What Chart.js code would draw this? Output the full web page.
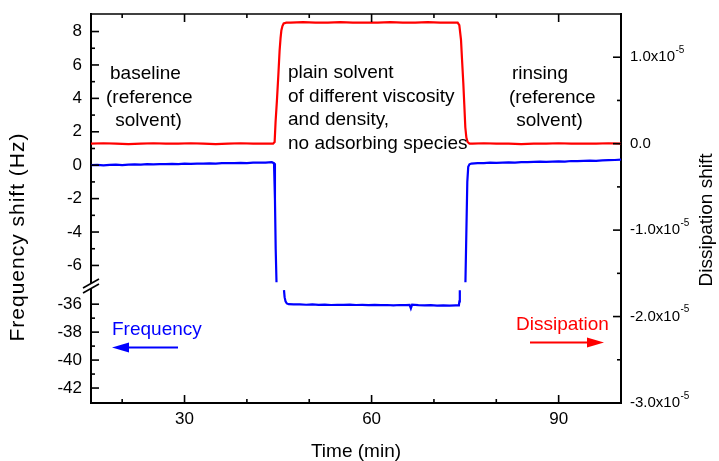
<!DOCTYPE html>
<html><head><meta charset="utf-8">
<script src="https://cdn.jsdelivr.net/npm/chart.js@4/dist/chart.umd.min.js"></script>
<style>html,body{margin:0;padding:0;background:#fff;}canvas{display:block;}</style>
</head><body>
<canvas id="c" width="719" height="461"></canvas>
<script>
// ---- data ----
const freqUpperTime = [15,16,17,18,19,20,21,22,23,24,25,26,27,28,29,30,31,32,33,34,35,36,37,38,39,40,41,42,43,44,44.35,44.5,44.62,44.75,60,75.05,75.2,75.35,75.5,75.7,76,77,78,79,80,81,82,83,84,85,86,87,88,89,90,91,92,93,94,95,96,97,98,99,100];
const freqUpperValue = [0.00,0.02,-0.01,0.02,0.03,0.01,0.04,0.05,0.03,0.06,0.05,0.07,0.06,0.08,0.07,0.09,0.08,0.10,0.09,0.11,0.10,0.12,0.13,0.12,0.14,0.13,0.15,0.16,0.15,0.18,0.12,-2.0,-5.0,-7.0,null,-7.0,-4.0,-1.0,-0.1,0.05,0.10,0.13,0.12,0.15,0.14,0.16,0.17,0.16,0.19,0.18,0.20,0.21,0.20,0.22,0.23,0.22,0.25,0.24,0.26,0.27,0.26,0.29,0.30,0.31,0.33];
const freqLowerTime = [45.95,46.05,46.2,46.4,46.7,47.5,48.5,49.5,50.5,51.5,52.5,53.5,54.5,55.5,56.5,57.5,58.5,59.5,60.5,61.5,62.5,63.5,64.5,65.5,66.1,66.3,66.5,67.5,68.5,69.5,70.5,71.5,72.5,73.5,74.0,74.08,74.15];
const freqLowerValue = [-35.0,-35.5,-35.8,-35.95,-36.0,-36.02,-36.01,-36.04,-36.02,-36.05,-36.03,-36.06,-36.04,-36.05,-36.03,-36.06,-36.05,-36.07,-36.05,-36.07,-36.06,-36.08,-36.06,-36.07,-36.05,-36.3,-36.04,-36.07,-36.09,-36.07,-36.10,-36.08,-36.10,-36.09,-36.09,-35.8,-35.0];
const dissTime = [15,17,19,21,23,25,27,29,31,33,35,37,39,41,43,44.2,44.45,44.6,44.82,45.05,45.25,45.4,45.53,45.7,45.9,46.33,47,49,51,53,55,57,59,61,63,65,67,69,71,73,73.8,74.07,74.34,74.5,74.71,74.87,75.03,75.2,75.4,75.7,76.2,78,80,82,84,86,88,90,92,94,96,98,100];
const dissValueE5 = [0.00,0.005,0.00,-0.005,0.00,0.005,0.00,0.00,0.005,0.00,-0.005,0.00,0.005,0.00,0.00,0.00,0.02,0.25,0.50,0.80,1.08,1.22,1.31,1.36,1.39,1.40,1.40,1.405,1.40,1.40,1.405,1.40,1.40,1.40,1.405,1.40,1.40,1.405,1.40,1.40,1.40,1.37,1.20,0.98,0.70,0.45,0.19,0.07,0.02,0.0,0.0,0.005,0.0,0.0,-0.005,0.0,0.0,0.005,0.0,0.0,0.0,0.005,0.0];

const timeTicks = [30,60,90];
const timeMinorTicks = [20,40,50,70,80];
const freqUpperTicks = [-6,-4,-2,0,2,4,6,8];
const freqUpperMinorTicks = [-5,-3,-1,1,3,5,7];
const freqLowerTicks = [-42,-40,-38,-36];
const freqLowerMinorTicks = [-41,-39,-37];
const dissTicks = [-3,-2,-1,0,1];
const dissMinorTicks = [-2.5,-1.5,-0.5,0.5];

const annotations = [
  {lines:['baseline','(reference',' solvent)'], x:[110,106,110], y:74},
  {lines:['plain solvent','of different viscosity','and density,','no adsorbing species'], x:[288,288,288,288], y:73},
  {lines:['rinsing','(reference',' solvent)'], x:[512,509,511], y:74}
];

// ---- build ----
const pts = (t, v, k) => t.map((x, i) => ({x, y: v[i] === null ? null : v[i] * (k || 1)}));
const FONT = "'Liberation Sans', Arial, sans-serif";

const setTicks = arr => scale => { scale.ticks = arr.map(v => ({value: v})); };
const noPad = w => scale => { scale.paddingTop = 0; scale.paddingBottom = 0; scale.paddingLeft = 0; scale.paddingRight = 0; if (w.width) scale.width = w.width; if (w.height) scale.height = w.height; };

const decor = {
  id: 'decor',
  afterDraw(chart) {
    const {ctx, chartArea: ca, scales} = chart;
    ctx.save();
    ctx.strokeStyle = '#000';
    ctx.lineWidth = 1.6;
    const line = (x1, y1, x2, y2) => { ctx.beginPath(); ctx.moveTo(x1, y1); ctx.lineTo(x2, y2); ctx.stroke(); };
    // top frame
    line(ca.left - 1, ca.top, ca.right + 1, ca.top);
    // x ticks (inward, bottom and top)
    timeTicks.forEach(v => { const p = scales.x.getPixelForValue(v); line(p, ca.bottom, p, ca.bottom - 8); line(p, ca.top, p, ca.top + 8); });
    timeMinorTicks.forEach(v => { const p = scales.x.getPixelForValue(v); line(p, ca.bottom, p, ca.bottom - 4); line(p, ca.top, p, ca.top + 4); });
    // left ticks
    freqUpperTicks.forEach(v => { const p = scales.yUp.getPixelForValue(v); line(ca.left, p, ca.left + 8, p); });
    freqUpperMinorTicks.forEach(v => { const p = scales.yUp.getPixelForValue(v); line(ca.left, p, ca.left + 4, p); });
    freqLowerTicks.forEach(v => { const p = scales.yLow.getPixelForValue(v); line(ca.left, p, ca.left + 8, p); });
    freqLowerMinorTicks.forEach(v => { const p = scales.yLow.getPixelForValue(v); line(ca.left, p, ca.left + 4, p); });
    // right ticks
    dissTicks.forEach(v => { const p = scales.yD.getPixelForValue(v); line(ca.right, p, ca.right - 8, p); });
    dissMinorTicks.forEach(v => { const p = scales.yD.getPixelForValue(v); line(ca.right, p, ca.right - 4, p); });
    // right tick labels with superscript exponent
    ctx.fillStyle = '#000';
    ctx.textAlign = 'left';
    ctx.textBaseline = 'middle';
    dissTicks.forEach(v => {
      const p = scales.yD.getPixelForValue(v);
      const x0 = ca.right + 9;
      ctx.font = '15px ' + FONT;
      if (v === 0) { ctx.fillText('0.0', x0, p); return; }
      const base = v.toFixed(1) + 'x10';
      ctx.fillText(base, x0, p);
      const w = ctx.measureText(base).width;
      ctx.font = '10px ' + FONT;
      ctx.fillText('-5', x0 + w + 0.5, p - 7);
    });
    // axis break
    const b = scales.yUp.bottom;
    ctx.fillStyle = '#fff';
    ctx.fillRect(ca.left - 3, b - 2, 6, 4);
    line(ca.left - 8, b + 2, ca.left + 8, b - 7);
    line(ca.left - 8, b + 7, ca.left + 8, b - 2);
    // annotations
    ctx.fillStyle = '#000';
    ctx.font = '19px ' + FONT;
    ctx.textBaseline = 'middle';
    ctx.textAlign = 'left';
    annotations.forEach(a => a.lines.forEach((s, i) => ctx.fillText(s, a.x[i], a.y + i * 23.5)));
    // labels with arrows
    ctx.fillStyle = '#0000ff'; ctx.strokeStyle = '#0000ff'; ctx.lineWidth = 2;
    ctx.fillText('Frequency', 112, 330);
    line(178, 347.5, 125, 347.5);
    ctx.beginPath(); ctx.moveTo(112, 347.5); ctx.lineTo(129, 342.5); ctx.lineTo(129, 352.5); ctx.closePath(); ctx.fill();
    ctx.fillStyle = '#ff0000'; ctx.strokeStyle = '#ff0000';
    ctx.fillText('Dissipation', 516, 325);
    line(530, 342.5, 592, 342.5);
    ctx.beginPath(); ctx.moveTo(604, 342.5); ctx.lineTo(587, 337.5); ctx.lineTo(587, 347.5); ctx.closePath(); ctx.fill();
    // axis titles
    ctx.fillStyle = '#000';
    ctx.font = '19px ' + FONT;
    ctx.textAlign = 'center';
    ctx.fillText('Time (min)', (ca.left + ca.right) / 2, 452);
    ctx.save(); ctx.translate(707, 220); ctx.rotate(-Math.PI / 2); ctx.fillText('Dissipation shift', 0, 0); ctx.restore();
    ctx.font = '21px ' + FONT;
    if ('letterSpacing' in ctx) ctx.letterSpacing = '1px';
    ctx.save(); ctx.translate(18, 237); ctx.rotate(-Math.PI / 2); ctx.fillText('Frequency shift (Hz)', 0, 0); ctx.restore();
    ctx.restore();
  }
};

const tickFont = {family: FONT, size: 17};
const gridOff = {display: false, drawTicks: false, tickLength: 0};
new Chart(document.getElementById('c'), {
  type: 'line',
  data: {
    datasets: [
      {label: 'Frequency', data: pts(freqUpperTime, freqUpperValue), xAxisID: 'x', yAxisID: 'yUp', borderColor: '#0000ff', borderWidth: 2.2, pointRadius: 0, spanGaps: false, tension: 0},
      {label: 'Frequency (lower)', data: pts(freqLowerTime, freqLowerValue), xAxisID: 'x', yAxisID: 'yLow', borderColor: '#0000ff', borderWidth: 2.2, pointRadius: 0, tension: 0},
      {label: 'Dissipation', data: pts(dissTime, dissValueE5), xAxisID: 'x', yAxisID: 'yD', borderColor: '#ff0000', borderWidth: 2.2, pointRadius: 0, tension: 0}
    ]
  },
  options: {
    responsive: false, animation: false, devicePixelRatio: 1,
    layout: {padding: {top: 14, left: 0, right: 0, bottom: 0}},
    plugins: {legend: {display: false}, tooltip: {enabled: false}},
    scales: {
      x: {type: 'linear', position: 'bottom', min: 15, max: 100,
          afterBuildTicks: setTicks(timeTicks), afterFit: noPad({height: 58}),
          grid: gridOff, border: {display: true, color: '#000', width: 2},
          ticks: {color: '#000', font: tickFont, padding: 6, maxRotation: 0, autoSkip: false}},
      yUp: {type: 'linear', position: 'left', stack: 'freq', stackWeight: 272, weight: 1, min: -7.23, max: 9.05,
          afterBuildTicks: setTicks(freqUpperTicks), afterFit: noPad({width: 91}),
          grid: gridOff, border: {display: true, color: '#000', width: 2},
          ticks: {color: '#000', font: tickFont, padding: 9, autoSkip: false}},
      yLow: {type: 'linear', position: 'left', stack: 'freq', stackWeight: 117, weight: 0, min: -43.07, max: -34.7,
          afterBuildTicks: setTicks(freqLowerTicks), afterFit: noPad({width: 91}),
          grid: gridOff, border: {display: true, color: '#000', width: 2},
          ticks: {color: '#000', font: tickFont, padding: 9, autoSkip: false}},
      yD: {type: 'linear', position: 'right', min: -3, max: 1.5,
          afterBuildTicks: setTicks(dissTicks), afterFit: noPad({width: 98}),
          grid: gridOff, border: {display: true, color: '#000', width: 2},
          ticks: {display: false}}
    }
  },
  plugins: [decor]
});
</script>
</body></html>
